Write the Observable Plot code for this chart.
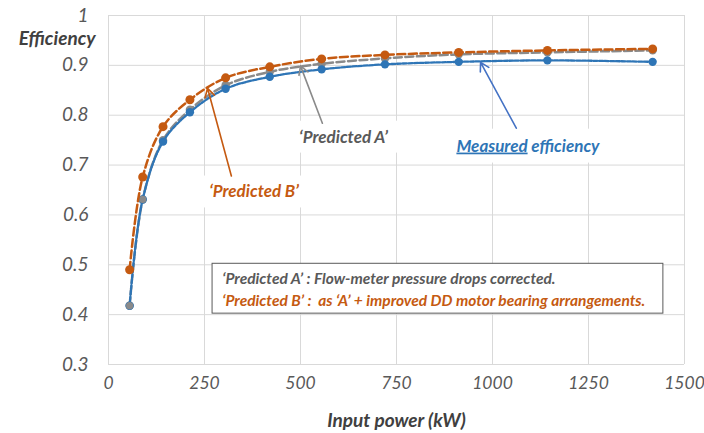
<!DOCTYPE html>
<html>
<head>
<meta charset="utf-8">
<script src="https://cdn.jsdelivr.net/npm/d3@7"></script>
<script src="https://cdn.jsdelivr.net/npm/@observablehq/plot@0.6"></script>
<style>
  body { margin: 0; background: #fff; }
  #chart { width: 704px; height: 433px; }
</style>
</head>
<body>
<div id="chart"></div>
<script>
// Data
const inputPower = [55, 89, 142, 212, 305, 420, 555, 720, 912, 1143, 1417];
const measured   = [0.418, 0.631, 0.747, 0.806, 0.853, 0.877, 0.892, 0.902, 0.907, 0.910, 0.907];
const predictedA = [0.418, 0.631, 0.750, 0.811, 0.860, 0.887, 0.903, 0.914, 0.922, 0.926, 0.930];
const predictedB = [0.490, 0.676, 0.777, 0.831, 0.875, 0.897, 0.913, 0.921, 0.926, 0.930, 0.933];
const xTicks = [0, 250, 500, 750, 1000, 1250, 1500];
const yTicks = [0.3, 0.4, 0.5, 0.6, 0.7, 0.8, 0.9, 1];

const rows = (ys) => inputPower.map((x, i) => ({x, y: ys[i]}));
const mData = rows(measured), aData = rows(predictedA), bData = rows(predictedB);

const cBlue = "#2E75B6", cGray = "#8A8A8A", cOrange = "#C55A11", cText = "#595959";
const font = "Lato, 'Open Sans', sans-serif";

// annotation placements (data space)
const labelBoxes = [
  {x1: 240, x2: 513, y1: 0.614, y2: 0.678},
  {x1: 474, x2: 755, y1: 0.724, y2: 0.788},
  {x1: 885, x2: 1307, y1: 0.704, y2: 0.772}
];
const arrows = [
  {x1: 557, y1: 0.784, x2: 500, y2: 0.899, c: cGray},
  {x1: 320, y1: 0.678, x2: 258, y2: 0.854, c: cOrange},
  {x1: 1062, y1: 0.774, x2: 969, y2: 0.906, c: "#4472C4"}
];

const chart = Plot.plot({
  width: 704, height: 433,
  marginTop: 15, marginBottom: 69, marginLeft: 108, marginRight: 20,
  style: {fontFamily: font, background: "#fff"},
  x: {domain: [0, 1500]},
  y: {domain: [0.3, 1]},
  marks: [
    Plot.gridX(xTicks, {stroke: "#D9D9D9", strokeOpacity: 1, strokeWidth: 1}),
    Plot.gridY(yTicks, {stroke: "#D9D9D9", strokeOpacity: 1, strokeWidth: 1}),
    Plot.axisX({ticks: xTicks, tickSize: 0, tickPadding: 12, fontSize: 17.5, fontStyle: "italic", fill: cText, label: null,
      tickFormat: d => String(d)}),
    Plot.axisY({ticks: yTicks, tickSize: 0, tickPadding: 20, fontSize: 19, fontStyle: "italic", fill: cText, label: null,
      tickFormat: d => d === 1 ? "1" : d.toFixed(1)}),
    Plot.text(["Efficiency"], {frameAnchor: "top-left", lineAnchor: "middle", dx: -13, dy: 23, textAnchor: "end", fontSize: 19, fontWeight: "bold", fontStyle: "italic", fill: "#404040"}),
    Plot.text(["Input power (kW)"], {frameAnchor: "bottom", lineAnchor: "middle", dy: 56, fontSize: 19, fontWeight: "bold", fontStyle: "italic", fill: "#404040"}),
    // label backgrounds
    Plot.rect(labelBoxes, {x1: "x1", x2: "x2", y1: "y1", y2: "y2", fill: "#fff"}),
    // series
    Plot.line(aData, {x: "x", y: "y", curve: "catmull-rom", stroke: cGray, strokeWidth: 2.5, strokeDasharray: "8,3.5"}),
    Plot.dot(aData, {x: "x", y: "y", r: 4.2, fill: cGray}),
    Plot.line(mData, {x: "x", y: "y", curve: "catmull-rom", stroke: cBlue, strokeWidth: 2.3, strokeDasharray: "4,1.6"}),
    Plot.dot(mData, {x: "x", y: "y", r: 4.2, fill: cBlue}),
    Plot.dot(aData.slice(0, 2), {x: "x", y: "y", r: 3.6, fill: cGray}),
    Plot.line(bData, {x: "x", y: "y", curve: "catmull-rom", stroke: cOrange, strokeWidth: 2.5, strokeDasharray: "8,3.5"}),
    Plot.dot(bData, {x: "x", y: "y", r: 4.5, fill: cOrange}),
    // arrows
    Plot.arrow(arrows, {x1: "x1", y1: "y1", x2: "x2", y2: "y2", stroke: "c", strokeWidth: 1.6, headLength: 9}),
    // annotation labels
    Plot.text(["‘Predicted A’"], {x: 612, y: 0.756, fontSize: 17, fontWeight: "bold", fontStyle: "italic", fill: cText}),
    Plot.text(["‘Predicted B’"], {x: 379, y: 0.646, fontSize: 17, fontWeight: "bold", fontStyle: "italic", fill: cOrange}),
    Plot.text(["Measured efficiency"], {x: 906, y: 0.738, textAnchor: "start", fontSize: 17, fontWeight: "bold", fontStyle: "italic", fill: cBlue}),
    // note box
    Plot.rect([{x1: 271, x2: 1445, y1: 0.402, y2: 0.502}], {x1: "x1", x2: "x2", y1: "y1", y2: "y2", fill: "#fff", stroke: cText, strokeWidth: 1}),
    Plot.text(["‘Predicted A’ : Flow-meter pressure drops corrected."], {x: 296, y: 0.472, textAnchor: "start", fontSize: 15.5, fontWeight: "bold", fontStyle: "italic", fill: cText}),
    Plot.text(["‘Predicted B’ :  as ‘A’ + improved DD motor bearing arrangements."], {x: 296, y: 0.428, textAnchor: "start", fontSize: 15.5, fontWeight: "bold", fontStyle: "italic", fill: cOrange})
  ]
});

// underline the word "Measured"
d3.select(chart).selectAll("text").each(function() {
  if (this.textContent === "Measured efficiency") {
    const t = d3.select(this);
    t.text(null);
    t.append("tspan").attr("text-decoration", "underline").style("text-decoration", "underline").text("Measured");
    t.append("tspan").text(" efficiency");
  }
});
document.getElementById("chart").appendChild(chart);
</script>
</body>
</html>
